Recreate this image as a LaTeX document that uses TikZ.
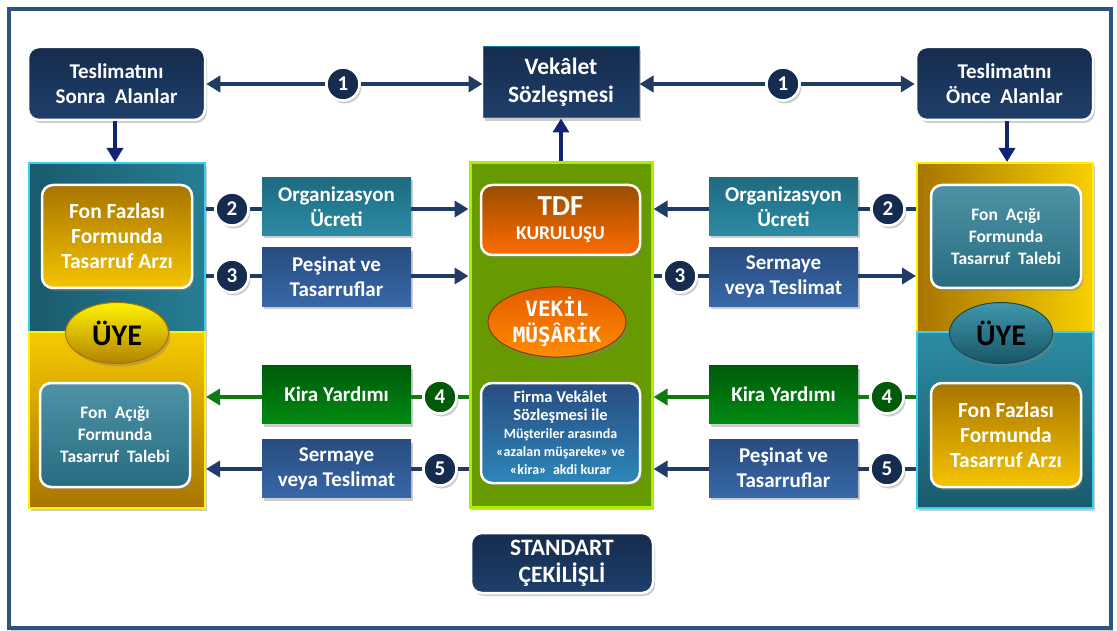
\documentclass[tikz,border=0pt]{standalone}
\usepackage{fontspec}
\setmainfont{Carlito}
\newfontfamily\vmono{DejaVu Sans Mono}
\usetikzlibrary{arrows.meta,shadows,shapes.geometric}
\definecolor{frameC}{HTML}{2B5580}
\definecolor{navyT}{HTML}{152C4E}
\definecolor{navyB}{HTML}{1F3F6A}
\definecolor{arrC}{HTML}{1F3B66}
\definecolor{arrG}{HTML}{137A13}
\definecolor{tealT}{HTML}{1E6A80}
\definecolor{tealB}{HTML}{2B8CA3}
\definecolor{blueT}{HTML}{284C80}
\definecolor{blueB}{HTML}{3868A8}
\definecolor{greenT}{HTML}{005A0A}
\definecolor{greenB}{HTML}{008A12}
\definecolor{panelG}{HTML}{669A00}
\definecolor{panelGB}{HTML}{A8F000}
\definecolor{yelDark}{HTML}{A87400}
\definecolor{yelLight}{HTML}{F5C400}
\definecolor{tealBox}{HTML}{2E7F96}
\definecolor{cyanB}{HTML}{38D0F0}
\tikzset{
  base/.style={text=white, align=center, inner sep=0pt, font=\bfseries\fontsize{21}{25}\selectfont},
  shad/.style={drop shadow={opacity=0.4, shadow xshift=2pt, shadow yshift=-3pt}},
  wbox/.style={base, shad, rounded corners=11pt, draw=white, line width=2.5pt},
  navybox/.style={wbox, top color=navyT, bottom color=navyB},
  tealrbox/.style={wbox, top color=tealBox!85!white, bottom color=tealBox!85!black, font=\bfseries\fontsize{17.5}{22}\selectfont},
  yelrbox/.style={wbox, top color=yelDark, bottom color=yelLight, font=\bfseries\fontsize{21.5}{25}\selectfont},
  lbl/.style={base, shad, minimum width=149pt, minimum height=58pt},
  lteal/.style={lbl, top color=tealT, bottom color=tealB},
  lblue/.style={lbl, top color=blueT, bottom color=blueB},
  lgreen/.style={lbl, top color=greenT, bottom color=greenB},
  numc/.style={circle, base, shad, minimum size=33pt, draw=white, line width=2.5pt, fill=navyT, font=\bfseries\fontsize{21}{21}\selectfont},
  numg/.style={numc, fill=greenT},
  conn/.style={draw=arrC, line width=4pt},
  conng/.style={draw=arrG, line width=4pt},
  tip/.style={-{Triangle[width=16pt,length=14pt]}},
  panel/.style={inner sep=0pt, minimum width=176pt, line width=2pt},
  uye/.style={ellipse, inner sep=0pt, minimum width=103pt, minimum height=61pt, shad, text=black, font=\bfseries\fontsize{30}{30}\selectfont}
}
\begin{document}
\begin{tikzpicture}[x=1pt,y=-1pt]
\useasboundingbox (0,0) rectangle (1117,631);
\fill[white] (0,0) rectangle (1117,631);
\draw[frameC, line width=4pt, shad, fill=white] (9,9) rectangle (1111,628);

% top row
\node[navybox, minimum width=177pt, minimum height=73pt] (sonra) at (116.5,83.5) {Teslimatını\\Sonra\ \ Alanlar};
\node[base, shad, draw=navyB!70!cyan, line width=1pt, top color=navyT, bottom color=navyB, minimum width=156pt, minimum height=71pt, font=\bfseries\fontsize{23.5}{28}\selectfont] (vek) at (561,82.5) {Vekâlet\\Sözleşmesi};
\node[navybox, minimum width=177pt, minimum height=73pt] (once) at (1004.5,83.5) {Teslimatını\\Önce\ \ Alanlar};

% left panel
\node[panel, shad, draw=cyanB, left color=tealT!85!black, right color=tealB!90!black, minimum height=169pt] (lpTop) at (117,247.5) {};
\node[panel, shad, draw=yellow, top color=yelLight!90!yellow, bottom color=yelDark, minimum height=176pt] (lpBot) at (117,420) {};
% right panel
\node[panel, shad, draw=yellow, left color=yelDark, right color=yelLight!80!yellow, minimum height=169pt] (rpTop) at (1005,247.5) {};
\node[panel, shad, draw=cyanB, top color=tealB, bottom color=tealT!85!black, minimum height=176pt] (rpBot) at (1005,420) {};
% center panel
\node[inner sep=0pt, shad, fill=panelG, draw=panelGB, line width=3pt, minimum width=182pt, minimum height=344pt] (gp) at (561,335) {};

% inner boxes
\node[yelrbox, minimum width=150pt, minimum height=103pt] (fonFazL) at (117,236.5) {Fon Fazlası\\Formunda\\Tasarruf Arzı};
\node[tealrbox, minimum width=150pt, minimum height=104pt] (fonAcL) at (115,435) {Fon\ \ Açığı\\Formunda\\Tasarruf\ \ Talebi};
\node[tealrbox, minimum width=150pt, minimum height=103pt] (fonAcR) at (1006,236.5) {Fon\ \ Açığı\\Formunda\\Tasarruf\ \ Talebi};
\node[yelrbox, minimum width=150pt, minimum height=104pt] (fonFazR) at (1006,435) {Fon Fazlası\\Formunda\\Tasarruf Arzı};
\node[uye, top color=yellow!90!orange, bottom color=yelDark!90!yellow, draw=yelDark, line width=1pt] (uyeL) at (117,333) {ÜYE};
\node[uye, top color=tealB!90!white, bottom color=tealT!80!black, draw=tealT!70!black, line width=1pt] (uyeR) at (1001,333) {ÜYE};

% center inner
\node[wbox, top color=orange!60!black, bottom color=orange!85!red, minimum width=159pt, minimum height=70pt] (tdf) at (560.5,220) {{\fontsize{29}{31}\selectfont TDF}\\[-1pt]{\fontsize{19.5}{21}\selectfont KURULUŞU}};
\node[ellipse, base, shad, minimum width=138pt, minimum height=64pt, top color=orange!80!red!90!black, bottom color=orange!90!yellow, draw=orange!50!black, line width=1pt, font=\vmono\bfseries\fontsize{21}{26}\selectfont] (vekil) at (557,322) {VEKİL\\MÜŞÂRİK};
\node[wbox, top color=blueT, bottom color=blueB!80!cyan, minimum width=159pt, minimum height=100pt, font=\bfseries\fontsize{14}{18}\selectfont] (firma) at (560.5,433) {{\fontsize{16.5}{20}\selectfont Firma Vekâlet}\\{\fontsize{16.5}{20}\selectfont Sözleşmesi ile}\\Müşteriler arasında\\«azalan müşareke» ve\\«kira»\ \ akdi kurar};
\node[navybox, minimum width=182pt, minimum height=60pt, font=\bfseries\fontsize{23.5}{27}\selectfont] (std) at (562,563) {STANDART\\ÇEKİLİŞLİ};

% label boxes
\node[lteal] (orgL) at (336.5,206.5) {Organizasyon\\Ücreti};
\node[lblue] (pesL) at (336.5,277) {Peşinat ve\\Tasarruflar};
\node[lgreen] (kiraL) at (336.5,394.5) {Kira Yardımı};
\node[lblue] (serL) at (336.5,468.5) {Sermaye\\veya Teslimat};
\node[lteal] (orgR) at (783.5,206.5) {Organizasyon\\Ücreti};
\node[lblue] (serR) at (783.5,277) {Sermaye\\veya Teslimat};
\node[lgreen] (kiraR) at (783.5,394.5) {Kira Yardımı};
\node[lblue] (pesR) at (783.5,468) {Peşinat ve\\Tasarruflar};

% circles
\node[numc] (c1L) at (343,84) {1};
\node[numc] (c1R) at (783,84) {1};
\node[numc] (c2L) at (232,209) {2};
\node[numc] (c3L) at (232,276) {3};
\node[numg] (c4L) at (440,397) {4};
\node[numc] (c5L) at (440,469) {5};
\node[numc] (c2R) at (888,209) {2};
\node[numc] (c3R) at (680,276) {3};
\node[numg] (c4R) at (887,397) {4};
\node[numc] (c5R) at (887,469) {5};

% row 1
\draw[conn, tip] (c1L.west) -- (sonra.east|-c1L);
\draw[conn, tip] (c1L.east) -- (vek.west|-c1L);
\draw[conn, tip] (c1R.west) -- (vek.east|-c1R);
\draw[conn, tip] (c1R.east) -- (once.west|-c1R);
% vertical
\draw[conn, draw=navyT!80!blue, tip] (sonra.south-|115,0) -- (lpTop.north-|115,0);
\draw[conn, draw=navyT!80!blue, tip] (once.south-|1007,0) -- (rpTop.north-|1007,0);
\draw[conn, draw=navyT!80!blue, tip] (gp.north) -- (vek.south);
% row 2
\draw[conn] (lpTop.east|-c2L) -- (c2L.west);
\draw[conn] (c2L.east) -- (orgL.west|-c2L);
\draw[conn, tip] (orgL.east|-c2L) -- (gp.west|-c2L);
\draw[conn] (rpTop.west|-c2R) -- (c2R.east);
\draw[conn] (c2R.west) -- (orgR.east|-c2R);
\draw[conn, tip] (orgR.west|-c2R) -- (gp.east|-c2R);
% row 3
\draw[conn] (lpTop.east|-c3L) -- (c3L.west);
\draw[conn] (c3L.east) -- (pesL.west|-c3L);
\draw[conn, tip] (pesL.east|-c3L) -- (gp.west|-c3L);
\draw[conn] (gp.east|-c3R) -- (c3R.west);
\draw[conn] (c3R.east) -- (serR.west|-c3R);
\draw[conn, tip] (serR.east|-c3R) -- (rpTop.west|-c3R);
% row 4
\draw[conng] (gp.west|-c4L) -- (c4L.east);
\draw[conng] (c4L.west) -- (kiraL.east|-c4L);
\draw[conng, tip] (kiraL.west|-c4L) -- (lpBot.east|-c4L);
\draw[conng] (rpBot.west|-c4R) -- (c4R.east);
\draw[conng] (c4R.west) -- (kiraR.east|-c4R);
\draw[conng, tip] (kiraR.west|-c4R) -- (gp.east|-c4R);
% row 5
\draw[conn] (gp.west|-c5L) -- (c5L.east);
\draw[conn] (c5L.west) -- (serL.east|-c5L);
\draw[conn, tip] (serL.west|-c5L) -- (lpBot.east|-c5L);
\draw[conn] (rpBot.west|-c5R) -- (c5R.east);
\draw[conn] (c5R.west) -- (pesR.east|-c5R);
\draw[conn, tip] (pesR.west|-c5R) -- (gp.east|-c5R);
\end{tikzpicture}
\end{document}
